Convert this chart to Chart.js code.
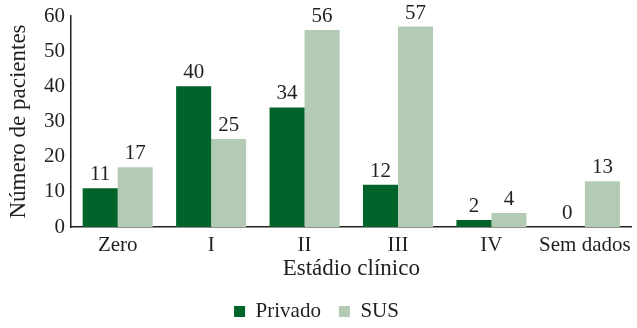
<!DOCTYPE html>
<html>
<head>
<meta charset="utf-8">
<script src="https://cdn.jsdelivr.net/npm/chart.js@4/dist/chart.umd.min.js"></script>
<style>
  html, body { margin: 0; padding: 0; background: #fff; }
  #wrap { width: 637px; height: 328px; }
</style>
</head>
<body>
<div id="wrap"><canvas id="chart"></canvas></div>
<script>
  // Pacientes por estádio clínico
  const estadios = ['Zero', 'I', 'II', 'III', 'IV', 'Sem dados'];
  const privado = [11, 40, 34, 12, 2, 0];
  const sus = [17, 25, 56, 57, 4, 13];

  const corPrivado = '#00632a';
  const corSus = '#b3cbb4';
  const fonte = 'Liberation Serif';
  const corTexto = '#231f20';
  const tam = 21;

  Chart.defaults.font.family = fonte;
  Chart.defaults.font.size = tam;
  Chart.defaults.color = corTexto;

  // Draws the value above each bar
  const rotulos = {
    id: 'rotulos',
    afterDatasetsDraw(chart) {
      const ctx = chart.ctx;
      ctx.save();
      ctx.font = tam + 'px "' + fonte + '"';
      ctx.fillStyle = corTexto;
      ctx.textAlign = 'center';
      ctx.textBaseline = 'bottom';
      chart.data.datasets.forEach(function(ds, i) {
        chart.getDatasetMeta(i).data.forEach(function(bar, j) {
          ctx.fillText(ds.data[j], bar.x, bar.y - 3);
        });
      });
      ctx.restore();
    }
  };

  new Chart(document.getElementById('chart'), {
    type: 'bar',
    data: {
      labels: estadios,
      datasets: [
        { label: 'Privado', data: privado, backgroundColor: corPrivado },
        { label: 'SUS', data: sus, backgroundColor: corSus }
      ]
    },
    options: {
      responsive: true,
      maintainAspectRatio: false,
      animation: false,
      // negative bottom padding pulls the legend row closer to the edge
      layout: { padding: { top: 16, right: 4, left: 0, bottom: -4 } },
      datasets: { bar: { categoryPercentage: 0.75, barPercentage: 1.0 } },
      scales: {
        x: {
          grid: { display: false, drawTicks: false },
          border: { color: '#231f20', width: 1.5 },
          ticks: { maxRotation: 0, minRotation: 0, autoSkip: false, padding: 6 },
          title: { display: true, text: 'Estádio clínico', font: { size: 23 },
                   padding: { top: 0, bottom: 0 } },
          afterFit(s) { s.height = 56; }
        },
        y: {
          min: 0, max: 60,
          grid: { display: false, drawTicks: true, tickLength: 5, tickColor: '#231f20' },
          border: { color: '#231f20', width: 1.5 },
          ticks: { stepSize: 10, padding: 1 },
          title: { display: true, text: 'Número de pacientes', font: { size: 23 },
                   padding: { top: 5, bottom: 2 } },
          afterFit(s) { s.width = 71; }
        }
      },
      plugins: {
        legend: {
          position: 'bottom',
          labels: { boxWidth: 11, boxHeight: 11, padding: 18,
                    font: { family: fonte, size: tam } }
        },
        tooltip: { enabled: false }
      }
    },
    plugins: [rotulos]
  });
</script>
</body>
</html>
